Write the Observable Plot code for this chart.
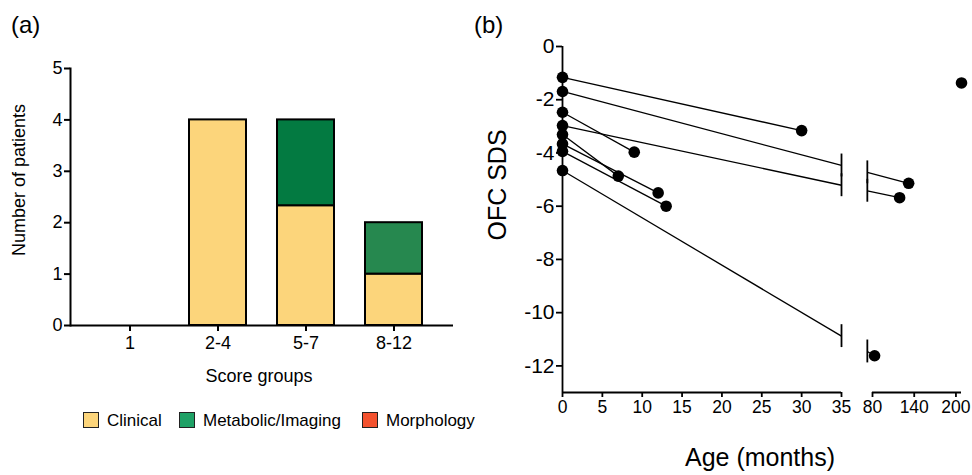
<!DOCTYPE html>
<html>
<head>
<meta charset="utf-8">
<script src="https://cdn.jsdelivr.net/npm/d3@7"></script>
<script src="https://cdn.jsdelivr.net/npm/@observablehq/plot@0.6"></script>
<style>
  html, body { margin: 0; padding: 0; background: #fff; }
  #root { position: relative; width: 972px; height: 475px; background: #fff;
          font-family: "Liberation Sans", Arial, Helvetica, sans-serif; color: #000; overflow: hidden; }
  .abs { position: absolute; white-space: nowrap; line-height: 1; }
  .rot { transform: translate(-50%, -50%) rotate(-90deg); }
  .ctr { transform: translate(-50%, -50%); }
  .sw { position: absolute; width: 14px; height: 14px; border: 1.5px solid #222; }
</style>
</head>
<body>
<div id="root">
  <div id="panelA" class="abs" style="left:0;top:0"></div>
  <div id="panelB" class="abs" style="left:480px;top:0"></div>

  <div class="abs" style="left:11px;top:13px;font-size:24px">(a)</div>
  <div class="abs" style="left:474px;top:13px;font-size:24px">(b)</div>

  <div class="abs rot" style="left:19px;top:180px;font-size:18px">Number of patients</div>
  <div class="abs ctr" style="left:259px;top:376px;font-size:18px">Score groups</div>

  <div class="abs rot" style="left:497px;top:185px;font-size:25px">OFC SDS</div>
  <div class="abs ctr" style="left:760px;top:457px;font-size:25px">Age (months)</div>

  <div id="legend"></div>
</div>
<script>
// ---------- Panel (a) data ----------
const scoreGroups = ["1", "2-4", "5-7", "8-12"];
const categories = ["Clinical", "Metabolic/Imaging", "Morphology"];
const clinicalCounts = [0, 4, 2.33, 1];
const metabolicCounts = [0, 0, 1.67, 1];
const morphologyCounts = [0, 0, 0, 0];
const yTicksA = [0, 1, 2, 3, 4, 5];

// ---------- Panel (b) data ----------
const startAge = [0, 0, 0, 0, 0, 0, 0, 0];
const startSDS = [-1.16, -1.69, -2.47, -2.97, -3.31, -3.66, -3.94, -4.66];
const endAge   = [30, 132, 9, 119, 7, 12, 13, 83];
const endSDS   = [-3.16, -5.14, -3.97, -5.68, -4.87, -5.5, -6.0, -11.62];
const singleAge = [208];
const singleSDS = [-1.37];
const xTicksB = [0, 5, 10, 15, 20, 25, 30, 35, 80, 140, 200];
const yTicksB = [-12, -10, -8, -6, -4, -2, 0];
const xDomainB = [0, 35, 80, 208];
const axisSegments = [[0, 35], [80, 208]];
const axisBreak = [35, 72.5];
const yDomainB = [-13, 0];

// ---------- styles ----------
const fillColors = {"Clinical": "#FCD57B", "Metabolic/Imaging": "#1FA166", "Morphology": "#F3522F"};
const barGreen = {"5-7": "#037A41", "8-12": "#26884F"};
const font = "'Liberation Sans', Arial, Helvetica, sans-serif";

// ---------- Panel (a) ----------
const barData = [];
scoreGroups.forEach((g, i) => {
  barData.push({group: g, category: "Clinical", count: clinicalCounts[i]});
  barData.push({group: g, category: "Metabolic/Imaging", count: metabolicCounts[i]});
  barData.push({group: g, category: "Morphology", count: morphologyCounts[i]});
});

const plotA = Plot.plot({
  width: 480, height: 400,
  marginLeft: 70, marginRight: 27, marginTop: 68, marginBottom: 75,
  style: {fontFamily: font, background: "transparent", color: "black", overflow: "visible"},
  x: {domain: scoreGroups, paddingInner: 0.35, paddingOuter: 0.33, label: null},
  y: {domain: [0, 5], label: null},
  marks: [
    Plot.barY(barData.filter(d => d.count > 0), {
      x: "group", y: "count", z: "category",
      order: categories,
      fill: d => d.category === "Metabolic/Imaging" ? (barGreen[d.group] || fillColors[d.category]) : fillColors[d.category],
      stroke: "black", strokeWidth: 2
    }),
    Plot.ruleY([0], {stroke: "black", strokeWidth: 2}),
    Plot.frame({anchor: "left", stroke: "black", strokeWidth: 2}),
    Plot.axisY({ticks: yTicksA, tickSize: 6, tickPadding: 2, tickFormat: d => String(d),
                fontSize: 18, strokeWidth: 2, label: null}),
    Plot.axisX({tickSize: 6, tickPadding: 5, fontSize: 18, strokeWidth: 2, label: null})
  ]
});
document.getElementById("panelA").appendChild(plotA);

// ---------- Panel (b) ----------
const xRangeB = [82, 361, 392, 481];
const sx = d3.scaleLinear().domain(xDomainB).range(xRangeB);
const segs = [], caps = [];
startAge.forEach((a0, i) => {
  const s0 = startSDS[i], a1 = endAge[i], s1 = endSDS[i];
  if (a1 <= axisBreak[0]) {
    segs.push({x1: a0, y1: s0, x2: a1, y2: s1});
  } else {
    const p0 = sx(a0), p1 = sx(a1);
    const yAt = bx => s0 + (sx(bx) - p0) / (p1 - p0) * (s1 - s0);
    const yl = yAt(axisBreak[0]), yr = yAt(axisBreak[1]);
    segs.push({x1: a0, y1: s0, x2: axisBreak[0], y2: yl});
    segs.push({x1: axisBreak[1], y1: yr, x2: a1, y2: s1});
    caps.push({x: axisBreak[0], y: yl}, {x: axisBreak[1], y: yr});
  }
});
const dots = startAge.map((a, i) => ({x: a, y: startSDS[i]}))
  .concat(endAge.map((a, i) => ({x: a, y: endSDS[i]})))
  .concat(singleAge.map((a, i) => ({x: a, y: singleSDS[i]})));

const capHalf = 0.43;
const plotB = Plot.plot({
  width: 492, height: 475,
  marginLeft: 82, marginRight: 11, marginTop: 46, marginBottom: 83,
  style: {fontFamily: font, background: "transparent", color: "black", overflow: "visible"},
  x: {type: "linear", domain: xDomainB, range: xRangeB, label: null},
  y: {domain: yDomainB, label: null},
  marks: [
    Plot.ruleY(axisSegments, {y: () => yDomainB[0], x1: d => d[0], x2: d => d[1], stroke: "black", strokeWidth: 1.8}),
    Plot.ruleX([0], {y1: yDomainB[0], y2: yDomainB[1], stroke: "black", strokeWidth: 1.8}),
    Plot.axisY({ticks: yTicksB, tickSize: 6, tickPadding: 2, tickFormat: d => String(d),
                fontSize: 21, strokeWidth: 1.8, label: null}),
    Plot.axisX({ticks: xTicksB, tickSize: 5, tickPadding: 3, tickFormat: d => String(d),
                fontSize: 17.5, strokeWidth: 1.8, label: null}),
    Plot.link(segs, {x1: "x1", y1: "y1", x2: "x2", y2: "y2", stroke: "black", strokeWidth: 1.3}),
    Plot.ruleX(caps, {x: "x", y1: d => d.y + capHalf, y2: d => d.y - capHalf, stroke: "black", strokeWidth: 1.8}),
    Plot.dot(dots, {x: "x", y: "y", r: 5.8, fill: "black", stroke: "none"})
  ]
});
document.getElementById("panelB").appendChild(plotB);

// ---------- Legend ----------
const legendLeft = [83, 179, 362];
const legend = document.getElementById("legend");
categories.forEach((c, i) => {
  const sw = document.createElement("div");
  sw.className = "sw";
  sw.style.left = legendLeft[i] + "px";
  sw.style.top = "412px";
  sw.style.background = fillColors[c];
  legend.appendChild(sw);
  const t = document.createElement("div");
  t.className = "abs";
  t.style.left = (legendLeft[i] + 24) + "px";
  t.style.top = "420px";
  t.style.transform = "translateY(-50%)";
  t.style.fontSize = "17px";
  t.textContent = c;
  legend.appendChild(t);
});
</script>
</body>
</html>
